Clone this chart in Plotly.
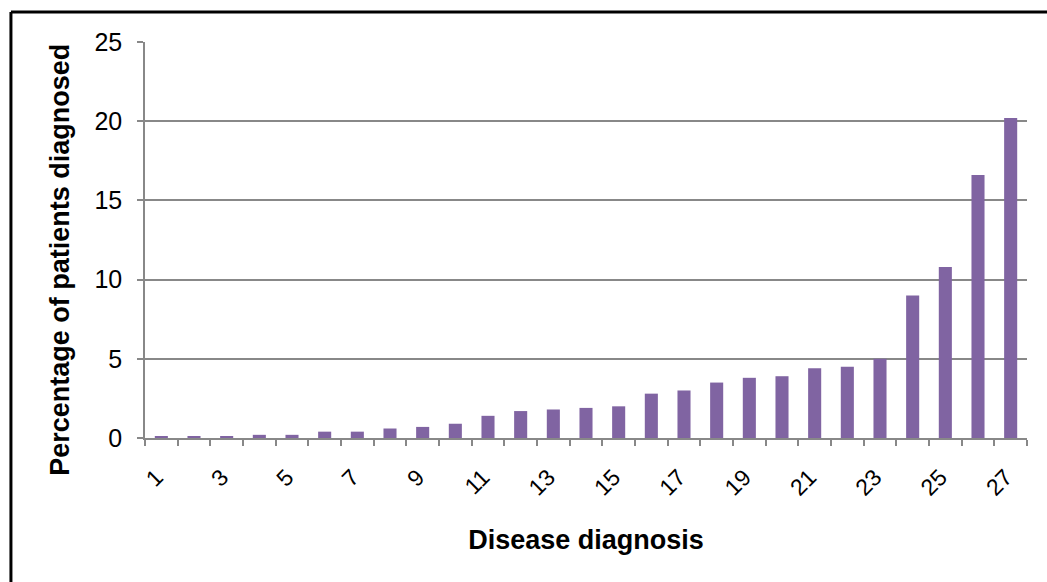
import plotly.graph_objects as go

# Disease diagnosis categories (1..27) and percentage of patients diagnosed
diagnoses = list(range(1, 28))
percentages = [0.1, 0.1, 0.1, 0.2, 0.2, 0.4, 0.4, 0.6, 0.7, 0.9,
               1.4, 1.7, 1.8, 1.9, 2.0, 2.8, 3.0, 3.5, 3.8, 3.9,
               4.4, 4.5, 5.0, 9.0, 10.8, 16.6, 20.2]
x_tick_labels = [str(v) for v in diagnoses if v % 2 == 1]
y_ticks = [0, 5, 10, 15, 20, 25]

BAR_COLOR = "#8064A2"
GRID_COLOR = "#888888"
FONT = "Liberation Sans, Arial, sans-serif"

fig = go.Figure(
    go.Bar(
        x=diagnoses,
        y=percentages,
        marker=dict(color=BAR_COLOR, line=dict(width=0)),
        hoverinfo="x+y",
    )
)

fig.update_layout(
    width=1047,
    height=582,
    margin=dict(l=145, r=20, t=42, b=144),
    paper_bgcolor="white",
    plot_bgcolor="white",
    bargap=0.6,
    showlegend=False,
    font=dict(family=FONT, color="black", size=20),
    shapes=[
        # Outer frame around the chart
        dict(type="line", xref="paper", yref="paper",
             x0=-0.152, x1=1.2, y0=1.0755, y1=1.0755,
             line=dict(color="black", width=3)),
        dict(type="line", xref="paper", yref="paper",
             x0=-0.152, x1=-0.152, y0=1.0755, y1=-0.5,
             line=dict(color="black", width=3)),
    ],
    annotations=[
        # Vertical axis title
        dict(text="<b>Percentage of patients diagnosed</b>",
             xref="paper", yref="paper", x=-0.0964, y=0.45,
             xanchor="center", yanchor="middle", textangle=-90,
             showarrow=False,
             font=dict(family=FONT, size=27, color="black")),
    ],
)

fig.update_xaxes(
    range=[0.5, 27.5],
    tickmode="array",
    tickvals=[v for v in diagnoses if v % 2 == 1],
    ticktext=x_tick_labels,
    tickangle=-45,
    ticks="",
    tickfont=dict(family=FONT, size=23, color="black"),
    ticklabelstandoff=15,
    ticklabelshift=-5,
    minor=dict(tickmode="linear", tick0=0.5, dtick=1, ticks="outside",
               ticklen=6, tickwidth=1.5, tickcolor=GRID_COLOR, showgrid=False),
    showline=True,
    linecolor=GRID_COLOR,
    linewidth=1.5,
    showgrid=False,
    zeroline=False,
    title=dict(text="<b>Disease diagnosis</b>",
               font=dict(family=FONT, size=27, color="black"),
               standoff=30),
)

fig.update_yaxes(
    range=[0, 25],
    tickmode="array",
    tickvals=y_ticks,
    ticks="outside",
    ticklen=6,
    tickwidth=1.5,
    tickcolor=GRID_COLOR,
    tickfont=dict(family=FONT, size=25, color="black"),
    ticklabelstandoff=10,
    showline=True,
    linecolor=GRID_COLOR,
    linewidth=1.5,
    showgrid=True,
    gridcolor=GRID_COLOR,
    gridwidth=1.5,
    zeroline=False,
)

fig.write_html("out.html")
